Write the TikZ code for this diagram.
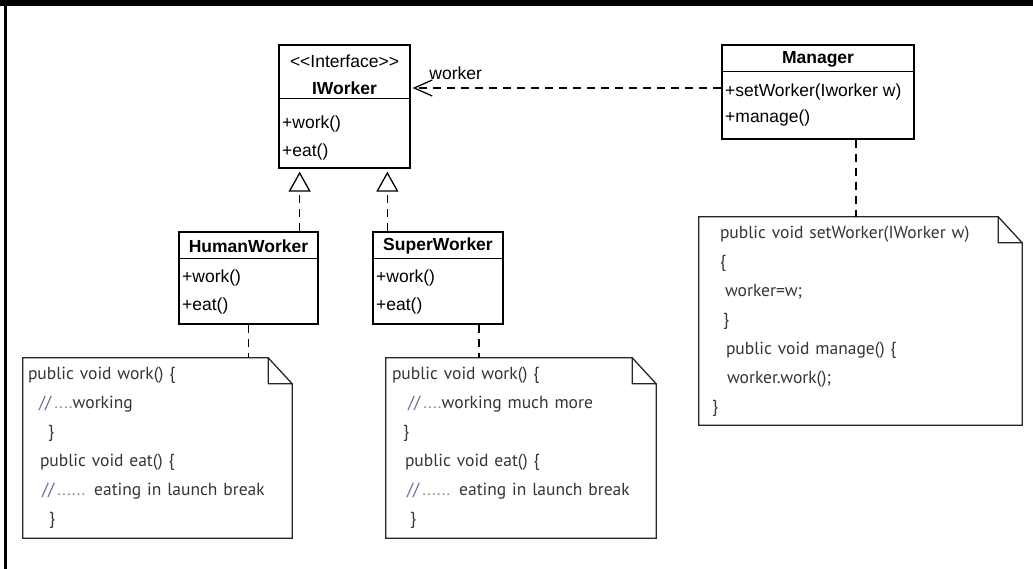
\documentclass[tikz,border=0pt]{standalone}
\usepackage{fontspec}
\setmainfont{Liberation Sans}
\newfontfamily\notefont{PT Sans}
\usetikzlibrary{arrows.meta}
\definecolor{white}{RGB}{255,255,255}
\definecolor{black}{RGB}{0,0,0}
\definecolor{note_text}{RGB}{55,50,60}
\definecolor{comment_blue}{RGB}{95,105,150}
\definecolor{dots_gray}{RGB}{150,150,150}

\begin{document}
\begin{tikzpicture}[x=1pt,y=-1pt,
	font=\fontsize{17.5}{21}\selectfont,
	class_box/.style={draw=black,line width=1.3pt,inner sep=0pt},
	class_line/.style={black,line width=1.3pt},
	class_name/.style={font=\fontsize{17.5}{21}\selectfont\bfseries},
	member/.style={anchor=west,inner sep=2pt},
	note_box/.style={inner xsep=5pt,inner ysep=0pt,align=left,text=note_text,
		font=\notefont\fontsize{17.5}{29}\selectfont},
	note_line/.style={black!85,line width=1.3pt},
	dash_line/.style={black,line width=1.5pt,dash pattern=on 8pt off 6pt}]
	\useasboundingbox (0,0) rectangle (1033,569);
	\fill[black] (0,0) rectangle (1033,6);
	\draw[black,line width=2.5pt] (5.5,6) -- (5.5,569);

	% classes
	\node[class_box,minimum width=131pt,minimum height=123pt] (iworker) at (344.5,106.5) {};
	\node (iworker_stereo) at (344.5,61) {<\kern0pt<Interface>\kern0pt>};
	\node[class_name] (iworker_name) at (344.5,88) {IWorker};
	\node[member] (iworker_work) at (280,124) {+work()};
	\node[member] (iworker_eat) at (280,152) {+eat()};

	\node[class_box,minimum width=139pt,minimum height=92pt] (hworker) at (248.5,278) {};
	\node[class_name] (hworker_name) at (248.5,246) {HumanWorker};
	\node[member] (hworker_work) at (180,278) {+work()};
	\node[member] (hworker_eat) at (180,306) {+eat()};

	\node[class_box,minimum width=130pt,minimum height=92pt] (sworker) at (438,278) {};
	\node[class_name] (sworker_name) at (438,246) {SuperWorker};
	\node[member] (sworker_work) at (374,278) {+work()};
	\node[member] (sworker_eat) at (374,306) {+eat()};

	\node[class_box,minimum width=192pt,minimum height=94pt] (manager) at (818,92) {};
	\node[class_name] (manager_name) at (818,59) {Manager};
	\node[member] (manager_set) at (723,92) {+setWorker(Iworker w)};
	\node[member] (manager_manage) at (723,118) {+manage()};

	\foreach \c/\y in {iworker/54,hworker/27,sworker/27,manager/27}
		\draw[class_line] ([yshift=-\y pt]\c.north west) -- ([yshift=-\y pt]\c.north east);

	% notes
	\node[note_box,minimum width=269pt,minimum height=180pt,text width=259pt] (hw_note) at (157.5,448) {%
		public void work() \{\\
		\hspace*{11pt}\textcolor{comment_blue}{//}\textcolor{dots_gray}{\,....}working\\
		\hspace*{20pt}\}\\
		\hspace*{12pt}public void eat() \{\\
		\hspace*{14pt}\textcolor{comment_blue}{//}\textcolor{dots_gray}{\,......} eating in launch break\\
		\hspace*{21pt}\}};
	\node[note_box,minimum width=270pt,minimum height=180pt,text width=260pt] (sw_note) at (521,448) {%
		\hspace*{1pt}public void work() \{\\
		\hspace*{17pt}\textcolor{comment_blue}{//}\textcolor{dots_gray}{\,....}working much more\\
		\hspace*{12pt}\}\\
		\hspace*{14pt}public void eat() \{\\
		\hspace*{16pt}\textcolor{comment_blue}{//}\textcolor{dots_gray}{\,......} eating in launch break\\
		\hspace*{19pt}\}};
	\node[note_box,minimum width=323pt,minimum height=208pt,text width=313pt] (mgr_note) at (860.5,321) {%
		\hspace*{16pt}public void setWorker(IWorker w)\\
		\hspace*{16pt}\{\\
		\hspace*{21pt}worker=w;\\
		\hspace*{19pt}\}\\
		\hspace*{22pt}public void manage() \{\\
		\hspace*{23pt}worker.work();\\
		\hspace*{8pt}\}};

	\foreach \n in {hw_note,sw_note,mgr_note}
		\draw[note_line] (\n.north west) -- ([xshift=-24pt]\n.north east) -- ([yshift=-26pt]\n.north east)
			-- (\n.south east) -- (\n.south west) -- cycle
			([xshift=-24pt]\n.north east) |- ([yshift=-26pt]\n.north east);

	% connectors
	\coordinate (hw_up) at ([xshift=-19pt]hworker.north east);
	\coordinate (sw_up) at ([xshift=15pt]sworker.north west);
	\foreach \p in {hw_up,sw_up}
		\draw[dash_line,-{Triangle[open,length=20pt,width=22pt,line width=1.3pt]},shorten >=3pt] (\p) -- (\p |- iworker.south);

	\coordinate (mgr_dep) at ([yshift=4pt]manager.west);
	\draw[dash_line,-{Straight Barb[length=18pt,width=16pt,line width=1.3pt]},shorten >=2pt] (mgr_dep) -- (mgr_dep -| iworker.east)
		node[pos=0.855,above=4pt] (worker_lbl) {worker};

	\coordinate (hw_down) at (hworker.south);
	\coordinate (sw_down) at ([xshift=41pt]sworker.south);
	\coordinate (mgr_down) at ([xshift=38pt]manager.south);
	\draw[dash_line] (hw_down) -- (hw_down |- hw_note.north);
	\draw[dash_line] (sw_down) -- (sw_down |- sw_note.north);
	\draw[dash_line] (mgr_down) -- (mgr_down |- mgr_note.north);
\end{tikzpicture}
\end{document}
